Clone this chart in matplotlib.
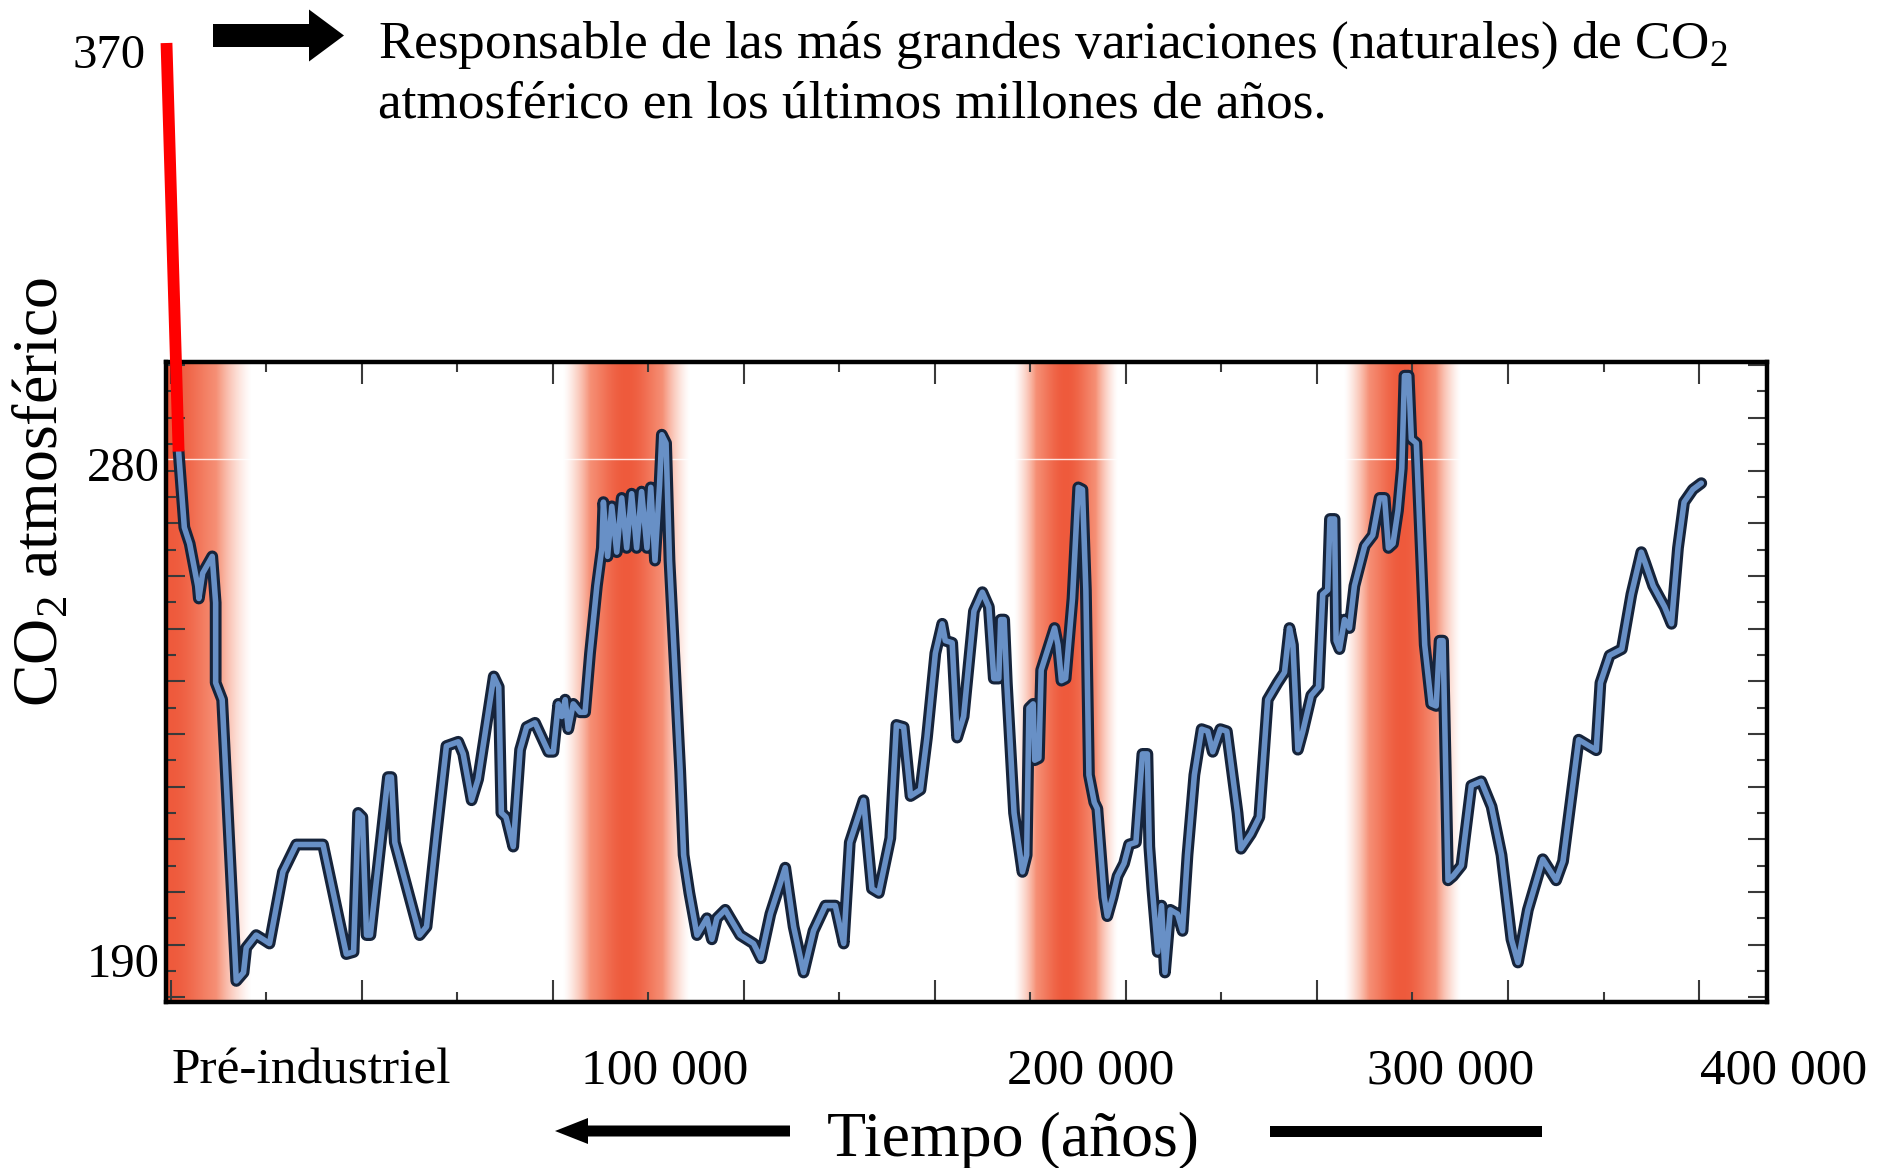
import numpy as np
import matplotlib
matplotlib.use("Agg")
import matplotlib.pyplot as plt
from matplotlib.patches import Polygon, ConnectionPatch
from matplotlib.ticker import MultipleLocator, NullFormatter

plt.rcParams['font.family'] = ['Liberation Serif', 'DejaVu Serif']
plt.rcParams['mathtext.fontset'] = 'custom'
plt.rcParams['mathtext.rm'] = 'Liberation Serif'

# Ice-core CO2 record: age in thousands of years before present, CO2 in ppmv
age_kyr = [
    2.0, 3.5, 4.9, 7.0, 7.3, 8.3, 10.8, 11.7, 11.7, 13.4, 17.1, 19.0, 19.7, 22.3,
    24.1, 25.8, 29.3, 32.8, 39.8, 45.9, 47.8, 49.0, 50.1, 51.2, 52.2, 56.8, 57.7,
    58.6, 65.1, 66.9, 69.5, 72.1, 75.2, 76.5, 78.7, 80.4, 84.5, 85.8, 86.5, 87.7,
    89.6, 91.4, 93.1, 95.3, 98.8, 100.1, 101.4, 102.3, 103.2, 104.0, 105.3, 107.1,
    108.4, 109.7, 111.5, 112.8, 113.2, 114.3, 115.4, 116.7, 118.0, 119.3, 120.6,
    121.9, 123.2, 124.6, 125.6, 126.7, 127.9, 128.5, 129.6, 130.5, 133.3, 134.2,
    135.7, 137.7, 140.3, 141.6, 142.9, 145.1, 149.0, 152.5, 154.4, 156.9, 160.8,
    163.0, 165.6, 168.2, 171.3, 173.9, 176.1, 177.7, 181.3, 183.5, 185.3, 188.3,
    189.9, 191.8, 193.6, 196.2, 197.9, 200.1, 201.9, 202.7, 204.5, 205.8, 207.5,
    210.2, 212.4, 214.1, 215.4, 216.7, 217.2, 218.1, 218.8, 220.7, 222.9, 224.0,
    224.6, 225.7, 226.1, 227.2, 227.8, 229.9, 231.3, 232.2, 233.1, 234.2, 236.0,
    237.5, 238.6, 239.5, 240.3, 241.7, 242.5, 244.3, 245.1, 246.5, 247.8, 249.5,
    250.8, 252.6, 254.3, 255.6, 256.1, 256.9, 258.3, 259.3, 260.2, 261.6, 263.5,
    264.8, 266.1, 267.9, 269.8, 271.4, 272.7, 274.7, 276.4, 279.2, 280.1, 282.7,
    284.9, 287.1, 289.7, 291.5, 292.8, 293.7, 295.0, 296.3, 298.5, 300.4, 301.5,
    302.8, 303.4, 304.6, 305.0, 305.9, 307.2, 308.5, 309.8, 312.5, 314.6, 316.4,
    317.7, 318.7, 319.9, 321.2, 322.2, 322.9, 324.0, 324.7, 326.0, 327.3, 328.2,
    329.9, 331.2, 332.1, 333.0, 334.3, 335.6, 337.8, 340.4, 343.0, 345.7, 348.3,
    350.9, 352.6, 355.2, 359.1, 362.6, 364.4, 368.5, 373.1, 374.2, 376.6, 379.8,
    382.3, 384.9, 385.9, 388.0, 391.0, 392.8, 394.5, 396.1, 398.4, 400.6,
]
co2_ppm = [
    283.6, 269.2, 266.1, 258.1, 255.7, 260.5, 263.7, 254.9, 239.7, 236.5, 183.1,
    184.7, 189.4, 191.8, 191.0, 190.2, 203.8, 209.0, 209.0, 188.2, 188.6, 215.0,
    214.2, 191.8, 191.8, 221.8, 221.8, 209.4, 191.8, 193.4, 211.0, 227.7, 228.5,
    226.2, 217.4, 221.4, 240.9, 238.9, 215.0, 214.2, 208.6, 227.0, 231.3, 232.1,
    226.6, 226.6, 235.7, 233.3, 236.5, 230.9, 235.7, 234.1, 234.1, 245.3, 258.1,
    265.3, 274.0, 263.7, 273.2, 264.5, 274.8, 265.3, 275.6, 265.3, 276.0, 265.3,
    276.8, 262.9, 277.2, 286.8, 285.2, 262.9, 223.0, 207.0, 199.8, 191.8, 195.0,
    191.0, 195.0, 196.6, 191.8, 190.2, 187.4, 195.8, 204.6, 193.4, 184.7, 192.6,
    197.4, 197.4, 190.2, 209.4, 217.4, 200.6, 199.8, 210.2, 231.7, 231.3, 218.2,
    219.4, 229.3, 245.3, 250.9, 247.7, 247.3, 229.3, 233.3, 253.3, 256.9, 254.1,
    240.5, 240.5, 251.7, 251.7, 239.7, 215.0, 203.8, 207.0, 234.9, 235.7, 225.0,
    225.4, 242.1, 246.9, 250.1, 246.9, 240.1, 240.5, 255.7, 276.8, 276.4, 257.3,
    222.2, 217.0, 215.8, 199.0, 195.4, 199.0, 203.0, 205.4, 209.0, 209.4, 226.2,
    226.2, 208.6, 200.6, 188.6, 197.4, 184.7, 196.6, 195.8, 192.6, 207.0, 222.2,
    230.9, 230.5, 226.6, 230.9, 230.5, 215.0, 208.2, 211.0, 214.2, 236.5, 239.7,
    241.7, 250.1, 246.9, 227.0, 230.5, 237.3, 238.9, 256.5, 257.3, 270.8, 270.8,
    247.7, 246.1, 251.7, 250.1, 258.1, 265.7, 267.7, 274.8, 274.8, 265.3, 266.1,
    272.4, 280.4, 298.0, 298.0, 286.0, 285.2, 262.9, 246.9, 235.7, 235.3, 247.7,
    247.7, 202.2, 203.0, 205.0, 220.2, 221.0, 216.2, 207.0, 191.0, 186.6, 196.6,
    206.2, 202.2, 205.8, 228.9, 226.9, 239.7, 244.9, 246.1, 256.5, 264.5, 262.5,
    258.1, 254.1, 250.9, 265.3, 274.0, 276.4, 277.6,
]

# Warm interglacial periods (kyr before present)
warm_periods = [(-22.0, 21.0), (102.7, 135.9), (220.6, 247.7), (307.2, 337.7)]

y_tick_labels = [280, 190]
today_label = "370"
x_labels = ["Pré-industriel", "100 000", "200 000", "300 000", "400 000"]
headline = ["Responsable de las más grandes variaciones (naturales) de CO$_\\mathregular{2}$",
            "atmosférico en los últimos millones de años."]
y_title = "CO$_\\mathregular{2}$ atmosférico"
x_title = "Tiempo (años)"

W, H = 1892, 1168
fig = plt.figure(figsize=(W / 100, H / 100), dpi=100)
fig.patch.set_facecolor("white")

ax = fig.add_axes([166 / W, 1 - 1002 / H, (1767 - 166) / W, (1002 - 362) / H])

# interglacial shading: horizontal red gradient bands
edge_rgb = np.array([248, 160, 135]) / 255
core_rgb = np.array([238, 90, 60]) / 255
t = np.linspace(0, 1, 300)
s = np.sin(np.pi * t)
alpha = np.clip(1.6 * s, 0, 1) ** 1.3
mix = s ** 3
rgb = edge_rgb[None, :] * (1 - mix[:, None]) + core_rgb[None, :] * mix[:, None]
band_img = np.concatenate([rgb, alpha[:, None]], axis=1)[None, :, :]
for x0, x1 in warm_periods:
    ax.imshow(band_img, extent=(x0, x1, 170, 310), aspect="auto",
              interpolation="bilinear", zorder=0)

ax.axhline(282.2, color="white", lw=1.0, alpha=0.85, zorder=1)

# CO2 curve: dark outline with a lighter blue core
ax.plot(age_kyr, co2_ppm, color="#16243b", lw=8.5, solid_joinstyle="round",
        solid_capstyle="round", zorder=3)
ax.plot(age_kyr, co2_ppm, color="#6890c6", lw=4.0, solid_joinstyle="round",
        solid_capstyle="round", zorder=4)

ax.set_xlim(-1.3, 417.8)
ax.set_ylim(179.1, 300.6)

ax.xaxis.set_major_locator(MultipleLocator(50))
ax.xaxis.set_minor_locator(MultipleLocator(25))
ax.yaxis.set_major_locator(MultipleLocator(10))
ax.yaxis.set_minor_locator(MultipleLocator(5))
ax.xaxis.set_major_formatter(NullFormatter())
ax.yaxis.set_major_formatter(NullFormatter())
ax.tick_params(axis="x", which="major", direction="in", length=16, width=1.5,
               color="#3a3a3a", top=True, bottom=True)
ax.tick_params(axis="x", which="minor", direction="in", length=7, width=1.5,
               color="#3a3a3a", top=True, bottom=True)
ax.tick_params(axis="y", which="major", direction="in", length=14, width=1.5,
               color="#3a3a3a", left=True, right=True)
ax.tick_params(axis="y", which="minor", direction="in", length=7, width=1.5,
               color="#3a3a3a", left=True, right=True)
for sp in ax.spines.values():
    sp.set_linewidth(3.2)
    sp.set_color("black")

# value labels on the CO2 axis
for val, dy in zip(y_tick_labels, [2, -20]):
    ax.annotate(str(val), xy=(0, val), xycoords=("axes fraction", "data"),
                xytext=(-6, dy), textcoords="offset pixels",
                ha="right", va="center", fontsize=35, annotation_clip=False)

# overlay in pixel coordinates for titles and arrows
ov = fig.add_axes([0, 0, 1, 1], zorder=10)
ov.set_xlim(0, W)
ov.set_ylim(H, 0)
ov.axis("off")
ov.patch.set_alpha(0)

# modern CO2 rise: red line up to today's value
red = ConnectionPatch(xyA=(166.5, 43), coordsA=ov.transData,
                      xyB=(age_kyr[0], co2_ppm[0]), coordsB=ax.transData,
                      color="#ff0000", lw=8.5, capstyle="butt", zorder=20)
fig.add_artist(red)
ov.text(109, 68, today_label, ha="center", va="baseline", fontsize=35)

# headline with arrow
ov.add_patch(Polygon([(213, 24), (309, 24), (309, 9.5), (344, 35.5),
                      (309, 61.5), (309, 47), (213, 47)], closed=True,
                     facecolor="black", edgecolor="none"))
ov.text(377.7, 58, headline[0], ha="left", va="baseline", fontsize=38.3)
ov.text(377.7, 118, headline[1], ha="left", va="baseline", fontsize=38.3)

# axis titles
ov.text(42, 492, y_title, rotation=90, ha="center", va="center", fontsize=46)
for lbl, cx in zip(x_labels, [311.3, 664.8, 1090.8, 1450.3, 1783.4]):
    ov.text(cx, 1083, lbl, ha="center", va="baseline", fontsize=37)
ov.text(1013, 1156, x_title, ha="center", va="baseline", fontsize=46)

# time-direction arrow and bar flanking the x title
ov.add_patch(Polygon([(555, 1131), (588, 1118), (588, 1125.5), (790, 1125.5),
                      (790, 1136.5), (588, 1136.5), (588, 1144)], closed=True,
                     facecolor="black", edgecolor="none"))
ov.add_patch(Polygon([(1270, 1125.5), (1542, 1125.5), (1542, 1136.5),
                      (1270, 1136.5)], closed=True, facecolor="black",
                     edgecolor="none"))

fig.savefig("out.png", dpi=100)
